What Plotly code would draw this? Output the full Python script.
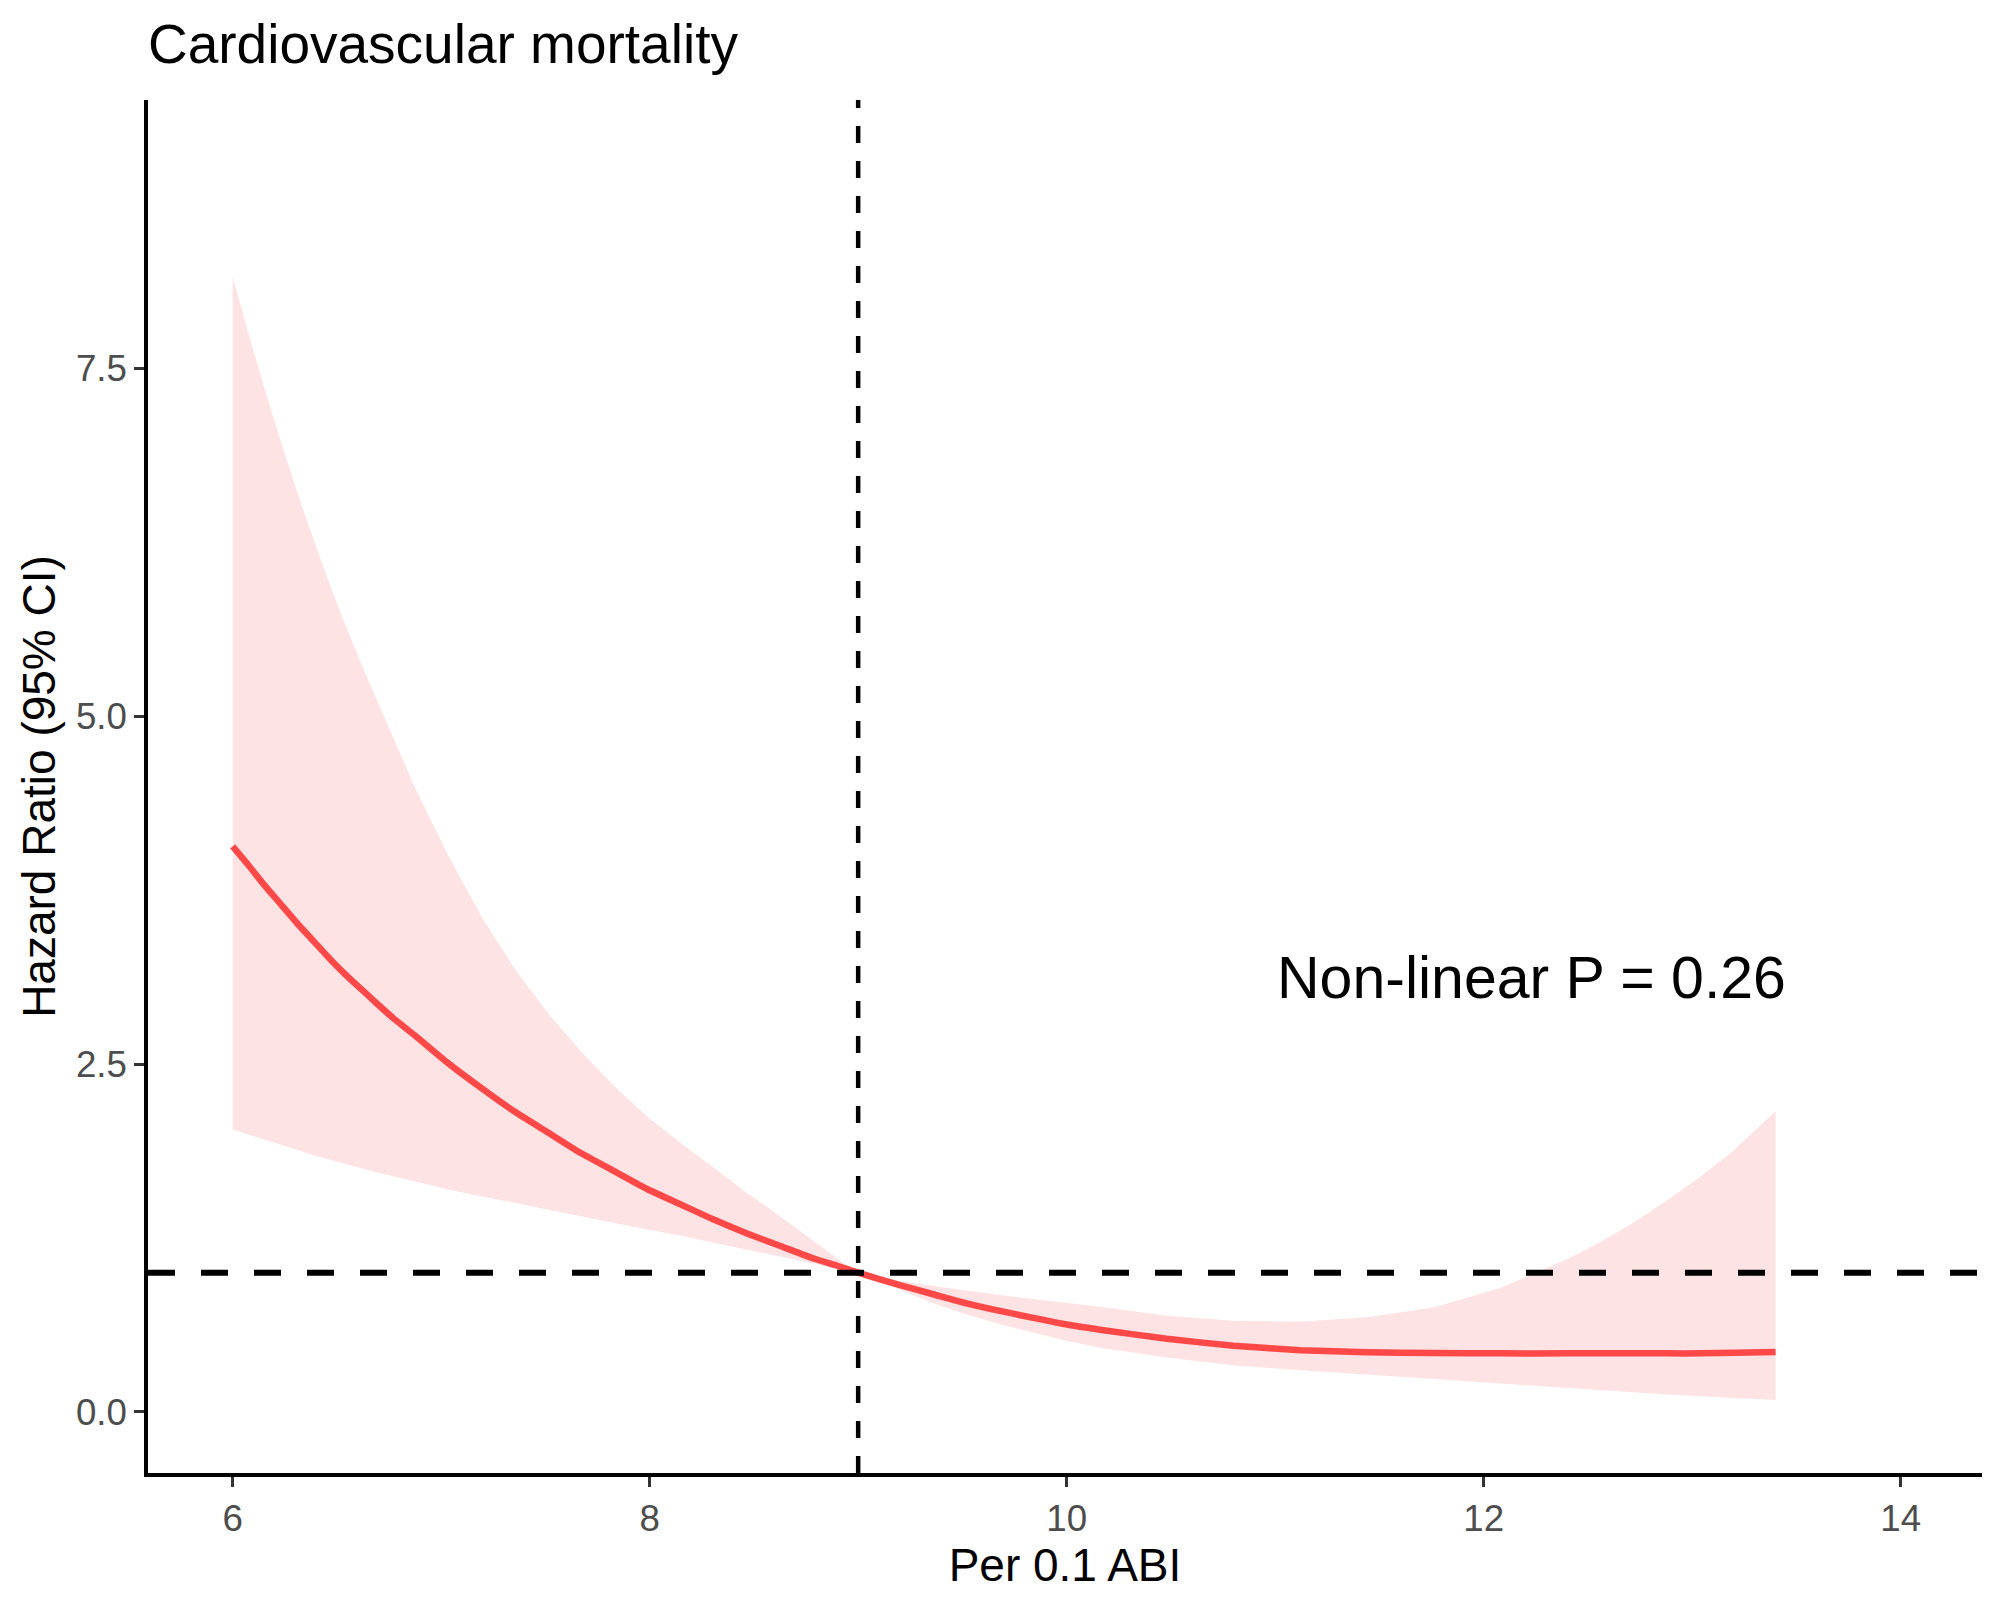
import plotly.graph_objects as go

# ---- data ----
x_vals = [6.0, 6.07, 6.15, 6.23, 6.31, 6.39, 6.47, 6.55, 6.63, 6.71, 6.77, 6.87, 7.03, 7.19,
          7.35, 7.51, 7.67, 7.83, 7.99, 8.15, 8.31, 8.47, 8.63, 8.79, 8.9, 9.0,
          9.2, 9.36, 9.52, 9.68, 9.84, 10.0, 10.16, 10.48, 10.8, 11.12, 11.44, 11.76,
          12.08, 12.4, 12.56, 12.72, 12.88, 13.04, 13.2, 13.4]
hr = [4.065, 3.94, 3.79, 3.65, 3.51, 3.38, 3.25, 3.13, 3.02, 2.91, 2.83, 2.71, 2.51, 2.33,
      2.16, 2.01, 1.86, 1.73, 1.60, 1.49, 1.38, 1.28, 1.19, 1.10, 1.05, 1.0,
      0.91, 0.845, 0.78, 0.725, 0.675, 0.627, 0.59, 0.525, 0.475, 0.443, 0.428, 0.422,
      0.42, 0.42, 0.42, 0.42, 0.42, 0.42, 0.425, 0.43]
upper = [8.16, 7.78, 7.37, 6.98, 6.61, 6.26, 5.93, 5.62, 5.33, 5.05, 4.85, 4.50, 4.01, 3.57,
         3.19, 2.87, 2.59, 2.34, 2.12, 1.93, 1.75, 1.57, 1.40, 1.22, 1.10, 1.0,
         0.94, 0.905, 0.87, 0.84, 0.81, 0.785, 0.755, 0.69, 0.655, 0.648, 0.68, 0.75,
         0.89, 1.096, 1.22, 1.36, 1.52, 1.69, 1.88, 2.16]
lower = [2.03, 1.995, 1.96, 1.92, 1.885, 1.845, 1.81, 1.775, 1.745, 1.715, 1.69, 1.655, 1.60, 1.55,
         1.50, 1.455, 1.405, 1.355, 1.31, 1.265, 1.215, 1.165, 1.115, 1.065, 1.03, 1.0,
         0.88, 0.78, 0.70, 0.63, 0.57, 0.51, 0.46, 0.39, 0.335, 0.298, 0.268, 0.235,
         0.20, 0.17, 0.155, 0.14, 0.125, 0.11, 0.10, 0.085]
x_ticks = [6, 8, 10, 12, 14]
y_ticks = [0.0, 2.5, 5.0, 7.5]
y_tick_text = ["0.0", "2.5", "5.0", "7.5"]
ref_x = 9
ref_y = 1
annot_text = "Non-linear P = 0.26"
annot_pos = (12.23, 3.12)

FONT = "Liberation Sans, Arial, Helvetica, sans-serif"

fig = go.Figure()
fig.add_trace(go.Scatter(
    x=x_vals + x_vals[::-1], y=upper + lower[::-1],
    fill="toself", fillcolor="#FDE3E4", line=dict(width=0),
    mode="lines", hoverinfo="skip", showlegend=False))
fig.add_trace(go.Scatter(
    x=x_vals, y=hr, mode="lines",
    line=dict(color="#FF4848", width=6.5, shape="spline", smoothing=0.5),
    showlegend=False))

fig.add_shape(type="line", xref="x domain", yref="y", x0=0, x1=1, y0=ref_y, y1=ref_y,
              line=dict(color="black", width=6, dash="27px,26px"), layer="above")
fig.add_shape(type="line", xref="x", yref="y domain", x0=ref_x, x1=ref_x, y0=0, y1=1,
              line=dict(color="black", width=4.5, dash="17px,18px"), layer="above")

fig.add_annotation(x=annot_pos[0], y=annot_pos[1], xref="x", yref="y", text=annot_text,
                   showarrow=False, font=dict(family=FONT, size=59, color="black"),
                   xanchor="center", yanchor="middle")

fig.update_layout(
    width=2008, height=1606,
    margin=dict(l=148, r=26, t=100, b=133),
    paper_bgcolor="white", plot_bgcolor="white",
    font=dict(family=FONT),
    title=dict(text="Cardiovascular mortality", x=0, xref="paper", xanchor="left",
               y=1 - 44 / 1606, yref="container", yanchor="middle",
               font=dict(family=FONT, size=55, color="black")),
)
fig.update_xaxes(
    range=[5.594, 14.39], tickvals=x_ticks, ticktext=[str(t) for t in x_ticks],
    showgrid=False, zeroline=False, showline=True, linecolor="black", linewidth=3.5,
    ticks="outside", ticklen=10, tickwidth=3, tickcolor="#333333",
    tickfont=dict(family=FONT, size=36.7, color="#4D4D4D"),
    title=dict(text="Per 0.1 ABI", font=dict(family=FONT, size=46, color="black"), standoff=9),
)
fig.update_yaxes(
    range=[-0.44, 9.43], tickvals=y_ticks, ticktext=y_tick_text,
    showgrid=False, zeroline=False, showline=True, linecolor="black", linewidth=3.5,
    ticks="outside", ticklen=10, tickwidth=3, tickcolor="#333333", ticklabelstandoff=0,
    tickfont=dict(family=FONT, size=36.7, color="#4D4D4D"),
    title=dict(text="Hazard Ratio (95% CI)", font=dict(family=FONT, size=46, color="black"), standoff=7),
)

fig.write_html("out.html")
